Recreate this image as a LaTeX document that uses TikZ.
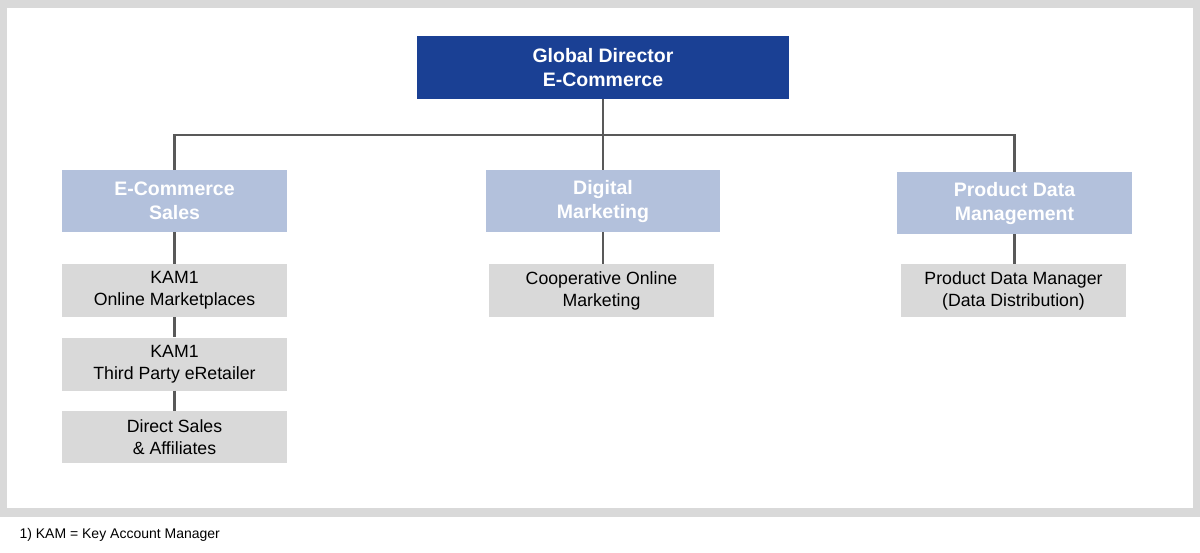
\documentclass[tikz,border=0pt]{standalone}
\usepackage{fontspec}
\setmainfont{Liberation Sans}
\usepackage{tikz}
\usetikzlibrary{positioning,calc}
\definecolor{darkblue}{RGB}{26,64,148}
\definecolor{lightblue}{RGB}{179,193,220}
\definecolor{boxgray}{RGB}{217,217,217}
\definecolor{linegray}{RGB}{89,89,89}
\tikzset{
    x=1pt,
    y=-1pt,
    head/.style = {
        fill=darkblue,
        text=white,
        shape=rectangle,
        inner sep=0pt,
        align=center,
        minimum height=63pt,
        minimum width=372pt,
        font=\fontsize{19.5}{24}\selectfont\bfseries
    },
    dept/.style = {
        fill=lightblue,
        text=white,
        shape=rectangle,
        inner sep=0pt,
        align=center,
        minimum height=62pt,
        minimum width=225pt,
        execute at begin node={\vspace*{2pt}},
        font=\fontsize{19.5}{24}\selectfont\bfseries
    },
    role/.style = {
        fill=boxgray,
        text=black,
        shape=rectangle,
        inner sep=0pt,
        align=center,
        minimum height=53pt,
        minimum width=225pt,
        execute at begin node={\vspace*{4pt}},
        font=\fontsize{17.7}{22}\selectfont
    },
    link/.style = {
        draw=linegray,
        line width=2.2pt
    },
}
\begin{document}
\begin{tikzpicture}
    \useasboundingbox (0,0) rectangle (1200,552);
    \fill[boxgray] (0,0) rectangle (1200,517);
    \fill[white] (7,8) rectangle (1193,508);

    \node[head] (gdir) at (603,67.5) {Global Director\\E-Commerce};

    \node[dept] (ecsales) at (174.5,201) {E-Commerce\\Sales};
    \node[dept, minimum width=234pt] (digmkt) at (603,201) {Digital\\Marketing};
    \node[dept, minimum width=235pt] (pdm) at (1014.5,203) {Product Data\\Management};

    \node[role] (kamom) at (174.5,290.5) {KAM1\\Online Marketplaces};
    \node[role] (kamtp) at (174.5,364) {KAM1\\Third Party eRetailer};
    \node[role, minimum height=52pt] (dsales) at (174.5,437) {Direct Sales\\ \& Affiliates};
    \node[role] (coop) at (601.5,290.5) {Cooperative Online\\Marketing};
    \node[role] (pdmgr) at (1013.5,290.5) {Product Data Manager\\(Data Distribution)};

    \coordinate (bus) at (603,135);

    \path[link] (gdir.south) -- (bus);
    \path[link] (bus) -| (ecsales.north);
    \path[link] (bus) -- (digmkt.north);
    \path[link] (bus) -| (pdm.north);
    \path[link] (ecsales) -- (kamom);
    \path[link] (kamom) -- (kamtp);
    \path[link] (kamtp) -- (dsales);
    \path[link] (digmkt) -- (coop.north -| digmkt.south);
    \path[link] (pdm) -- (pdmgr.north -| pdm.south);

    \node[anchor=west, font=\fontsize{14}{16}\selectfont] (note) at (16,535) {1) KAM = Key Account Manager};
\end{tikzpicture}
\end{document}
